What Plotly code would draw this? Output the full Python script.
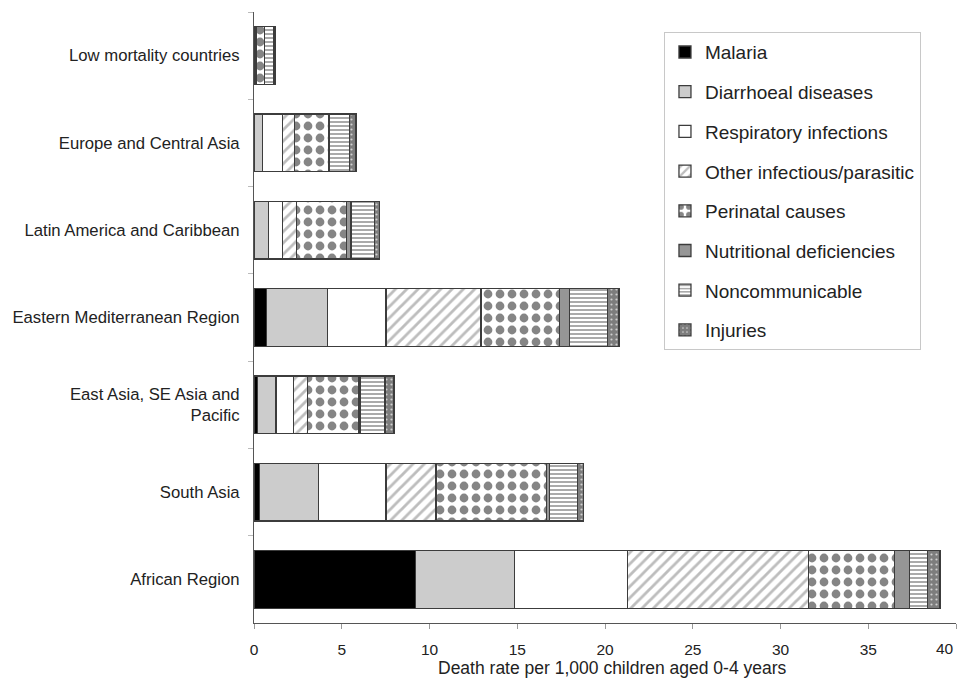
import plotly.graph_objects as go

categories = [
    "Low mortality countries",
    "Europe and Central Asia",
    "Latin America and Caribbean",
    "Eastern Mediterranean Region",
    "East Asia, SE Asia and<br>Pacific",
    "South Asia",
    "African Region",
]

malaria = [0.00, 0.00, 0.02, 0.72, 0.19, 0.30, 9.21]
diarrhoeal = [0.03, 0.47, 0.80, 3.46, 1.06, 3.36, 5.62]
respiratory = [0.05, 1.14, 0.79, 3.34, 0.99, 3.86, 6.46]
other_infectious = [0.05, 0.69, 0.82, 5.41, 0.80, 2.85, 10.29]
perinatal = [0.45, 1.94, 2.85, 4.47, 2.90, 6.31, 4.90]
nutritional = [0.02, 0.08, 0.25, 0.57, 0.10, 0.15, 0.86]
noncommunicable = [0.50, 1.12, 1.33, 2.18, 1.42, 1.61, 1.02]
injuries = [0.10, 0.37, 0.28, 0.65, 0.52, 0.32, 0.73]

x_ticks = [0, 5, 10, 15, 20, 25, 30, 35, 40]
x_title = "Death rate per 1,000 children aged 0-4 years"

# last tick label is drawn as an annotation anchored at its right edge so it is not cut off
x_ticktext = [str(v) for v in x_ticks[:-1]] + [""]

series = [
    ("Malaria", malaria, dict(color="#000000")),
    ("Diarrhoeal diseases", diarrhoeal, dict(color="#cccccc")),
    ("Respiratory infections", respiratory, dict(color="#ffffff")),
    ("Other infectious/parasitic", other_infectious,
     dict(color="#ffffff", pattern=dict(shape="/", fgcolor="#bdbdbd", bgcolor="#ffffff",
                                         size=8, solidity=0.35, fillmode="replace"))),
    ("Perinatal causes", perinatal,
     dict(color="#ffffff", pattern=dict(shape=".", fgcolor="#858585", bgcolor="#ffffff",
                                         size=12, solidity=0.42, fillmode="replace"))),
    ("Nutritional deficiencies", nutritional, dict(color="#969696")),
    ("Noncommunicable", noncommunicable,
     dict(color="#ffffff", pattern=dict(shape="-", fgcolor="#a0a0a0", bgcolor="#ffffff",
                                         size=4, solidity=0.45, fillmode="replace"))),
    ("Injuries", injuries,
     dict(color="#7d7d7d", pattern=dict(shape=".", fgcolor="#d0d0d0", bgcolor="#7d7d7d",
                                         size=5, solidity=0.15, fillmode="replace"))),
]

fig = go.Figure()
for name, vals, marker in series:
    m = dict(marker)
    m["line"] = dict(color="#3c3c3c", width=1.3)
    fig.add_trace(go.Bar(
        name=name, y=categories, x=vals, orientation="h",
        marker=m, legendgroup=name,
    ))

fig.add_annotation(
    text=x_title, xref="paper", yref="paper", x=0.51, y=0,
    xanchor="center", yanchor="middle", yshift=-45, showarrow=False,
    font=dict(size=17.5, color="#222222"),
)
fig.add_annotation(
    text=str(x_ticks[-1]), xref="x", yref="paper", x=x_ticks[-1], y=0,
    xanchor="right", yanchor="middle", yshift=-25, showarrow=False,
    font=dict(size=15.5, color="#222222"),
)

fig.update_layout(
    barmode="stack",
    bargap=0.34,
    width=957, height=670,
    margin=dict(l=246, r=9, t=4, b=55),
    plot_bgcolor="white",
    paper_bgcolor="white",
    font=dict(family="Liberation Sans, Arial, sans-serif", size=15, color="#222222"),
    legend=dict(
        x=0.584, y=0.967, xanchor="left", yanchor="top",
        bordercolor="#c8c8c8", borderwidth=1, bgcolor="white",
        font=dict(size=19, color="#222222"),
        tracegroupgap=12,
        itemwidth=30,
    ),
    xaxis=dict(
        range=[0, 40], tickvals=x_ticks, ticktext=x_ticktext,
        showgrid=False, zeroline=False,
        showline=True, linecolor="#555555", linewidth=1,
        ticks="outside", ticklen=5, tickcolor="#999999",
        tickfont=dict(size=15.5), ticklabelstandoff=7,
        automargin=False,
    ),
    yaxis=dict(
        autorange="reversed", showgrid=False, zeroline=False,
        showline=True, linecolor="#555555", linewidth=1,
        ticks="outside", ticklen=5, tickcolor="#bbbbbb", tickson="boundaries",
        tickfont=dict(size=16.7), ticklabelstandoff=10,
        automargin=False,
    ),
)

fig.write_html("out.html")
